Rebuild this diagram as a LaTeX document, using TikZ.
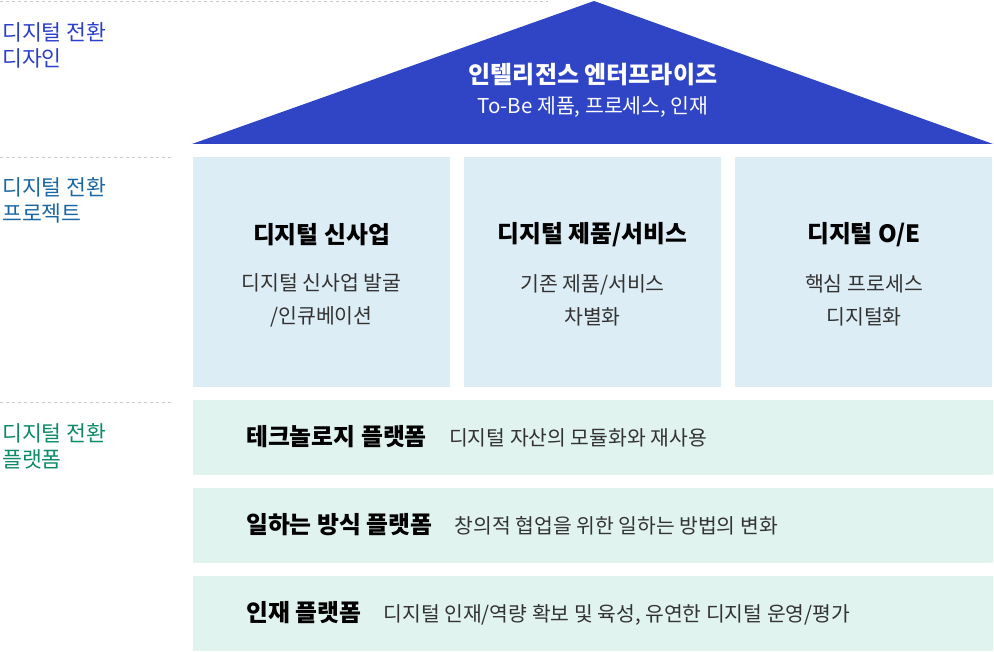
\documentclass[tikz,border=0pt]{standalone}
\usepackage{fontspec}
\setmainfont{Noto Sans CJK KR}
\definecolor{tricol}{HTML}{2F45C6}
\definecolor{boxblue}{HTML}{DDEDF6}
\definecolor{bargreen}{HTML}{E0F3EE}
\definecolor{lblA}{HTML}{2B3FC8}
\definecolor{lblB}{HTML}{1B67A3}
\definecolor{lblC}{HTML}{0E8A66}
\definecolor{sepgray}{HTML}{C8C8C8}
\definecolor{subgray}{HTML}{333333}
\begin{document}
\begin{tikzpicture}[x=1pt,y=-1pt,
  sepline/.style={draw=sepgray, dashed, line width=0.8pt},
  sidelbl/.style={anchor=west, align=left, inner sep=0pt, font=\fontsize{21.6}{26}\selectfont},
  projbox/.style={fill=boxblue, draw=none, anchor=north west, minimum width=257pt, minimum height=230pt, inner sep=0pt},
  platbar/.style={fill=bargreen, draw=none, anchor=north west, minimum width=800pt, minimum height=75pt, inner sep=0pt},
  boxtitle/.style={inner sep=0pt, font=\fontsize{23.8}{26}\bfseries\selectfont, text=black},
  boxsub/.style={inner sep=0pt, align=center, font=\fontsize{20.5}{33}\selectfont, text=subgray},
  bartitle/.style={inner sep=0pt, anchor=west, font=\fontsize{23.8}{26}\bfseries\selectfont, text=black},
  bardesc/.style={inner sep=0pt, anchor=base west, font=\fontsize{20.4}{26}\selectfont, text=subgray}
]
\useasboundingbox (0,0) rectangle (994,652);

% separators
\coordinate (s1a) at (0,1);   \coordinate (s1b) at (548,1);
\coordinate (s2a) at (0,157); \coordinate (s2b) at (172,157);
\coordinate (s3a) at (0,402); \coordinate (s3b) at (172,402);
\draw[sepline] (s1a) -- (s1b);
\draw[sepline] (s2a) -- (s2b);
\draw[sepline] (s3a) -- (s3b);

% side labels
\node[sidelbl, text=lblA] (lA) at (2,45) {디지털 전환\\디자인};
\node[sidelbl, text=lblB] (lB) at (2,200) {디지털 전환\\프로젝트};
\node[sidelbl, text=lblC] (lC) at (2,446) {디지털 전환\\플랫폼};

% roof
\coordinate (tl) at (192,144);
\coordinate (tt) at (594,1);
\coordinate (tr) at (993,144);
\fill[tricol] (tl) -- (tt) -- (tr) -- cycle;
\node[inner sep=0pt, text=white, font=\fontsize{24}{26}\bfseries\selectfont] (roofT) at (593,75) {인텔리전스 엔터프라이즈};
\node[inner sep=0pt, text=white, font=\fontsize{20.5}{26}\selectfont] (roofS) at (593,107) {To-Be 제품, 프로세스, 인재};

% project boxes
\node[projbox] (b1) at (193,157) {};
\node[projbox] (b2) at (464,157) {};
\node[projbox] (b3) at (735,157) {};
\node[boxtitle] (b1t) at (321.5,235) {디지털 신사업};
\node[boxtitle] (b2t) at (592.5,235) {디지털 제품/서비스};
\node[boxtitle] (b3t) at (864,235) {디지털 O/E};
\node[boxsub] (b1s) at (321.5,300) {디지털 신사업 발굴\\/인큐베이션};
\node[boxsub] (b2s) at (592.5,300) {기존 제품/서비스\\차별화};
\node[boxsub] (b3s) at (864,300) {핵심 프로세스\\디지털화};

% platform bars
\node[platbar] (p1) at (193,400) {};
\node[platbar] (p2) at (193,488) {};
\node[platbar] (p3) at (193,576) {};
\node[bartitle] (p1t) at (246,437) {테크놀로지 플랫폼};
\node[bartitle] (p2t) at (246,525) {일하는 방식 플랫폼};
\node[bartitle] (p3t) at (246,613) {인재 플랫폼};
\node[bardesc] (p1d) at ([xshift=22pt]p1t.base east) {디지털 자산의 모듈화와 재사용};
\node[bardesc] (p2d) at ([xshift=22pt]p2t.base east) {창의적 협업을 위한 일하는 방법의 변화};
\node[bardesc] (p3d) at ([xshift=22pt]p3t.base east) {디지털 인재/역량 확보 및 육성, 유연한 디지털 운영/평가};
\end{tikzpicture}
\end{document}
